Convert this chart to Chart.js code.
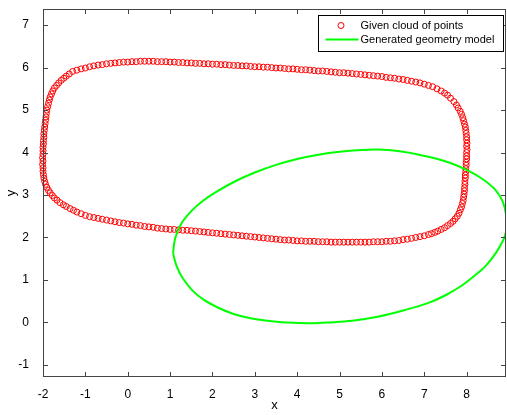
<!DOCTYPE html>
<html>
<head>
<meta charset="utf-8">
<script src="https://cdn.jsdelivr.net/npm/chart.js@4/dist/chart.umd.min.js"></script>
<style>
  html, body { margin: 0; padding: 0; background: #fff; }
  #wrap { width: 507px; height: 415px; }
</style>
</head>
<body>
<div id="wrap"><canvas id="fig"></canvas></div>
<script>
// axis limits and ticks (MATLAB-like figure)
const xLimits = [-2, 8.93];
const yLimits = [-1.285, 7.38];
const tickStep = 1;

const cloudLabel = "Given cloud of points";
const modelLabel = "Generated geometry model";

// measured cloud of points, [x, y], going round the contour
const cloudPoints = [
  [-1.30, 5.91], [-1.20, 5.94], [-1.10, 5.97], [-1.00, 5.99], [-0.90, 6.02], [-0.80, 6.04],
  [-0.70, 6.06], [-0.60, 6.07], [-0.50, 6.09], [-0.40, 6.10], [-0.30, 6.11], [-0.20, 6.12],
  [-0.10, 6.13], [0.00, 6.13], [0.10, 6.14], [0.20, 6.14], [0.30, 6.15], [0.40, 6.15],
  [0.50, 6.15], [0.60, 6.15], [0.70, 6.14], [0.80, 6.14], [0.90, 6.14], [1.00, 6.13],
  [1.10, 6.13], [1.20, 6.12], [1.30, 6.12], [1.40, 6.11], [1.50, 6.11], [1.60, 6.10],
  [1.70, 6.10], [1.80, 6.09], [1.90, 6.09], [2.00, 6.08], [2.10, 6.08], [2.20, 6.07],
  [2.30, 6.07], [2.40, 6.06], [2.50, 6.05], [2.60, 6.05], [2.70, 6.04], [2.80, 6.04],
  [2.90, 6.03], [3.00, 6.02], [3.10, 6.02], [3.20, 6.01], [3.30, 6.01], [3.40, 6.00],
  [3.50, 5.99], [3.60, 5.99], [3.70, 5.98], [3.80, 5.97], [3.90, 5.97], [4.00, 5.96],
  [4.10, 5.95], [4.20, 5.95], [4.30, 5.94], [4.40, 5.93], [4.50, 5.92], [4.60, 5.92],
  [4.70, 5.91], [4.80, 5.90], [4.90, 5.89], [5.00, 5.88], [5.10, 5.88], [5.20, 5.87],
  [5.30, 5.86], [5.40, 5.85], [5.50, 5.84], [5.60, 5.83], [5.70, 5.82], [5.80, 5.81],
  [5.90, 5.80], [6.00, 5.79], [6.10, 5.77], [6.20, 5.76], [6.30, 5.75], [6.40, 5.73],
  [6.50, 5.72], [6.60, 5.70], [6.70, 5.68], [6.80, 5.66], [6.90, 5.64], [7.00, 5.61],
  [7.10, 5.58], [7.20, 5.55], [7.30, 5.50], [7.40, 5.45], [7.48, 5.40], [7.55, 5.35],
  [7.62, 5.28], [7.70, 5.20], [7.76, 5.12], [7.80, 5.05], [7.85, 4.97], [7.88, 4.90],
  [7.91, 4.82], [7.93, 4.75], [7.95, 4.67], [7.97, 4.60], [7.98, 4.52], [7.99, 4.45],
  [8.00, 4.37], [8.00, 4.30], [8.01, 4.22], [8.00, 4.15], [8.01, 4.07], [8.00, 4.00],
  [8.00, 3.92], [8.00, 3.85], [7.99, 3.77], [7.99, 3.70], [7.98, 3.62], [7.98, 3.55],
  [7.97, 3.47], [7.97, 3.40], [7.96, 3.32], [7.96, 3.25], [7.95, 3.17], [7.95, 3.10],
  [7.94, 3.02], [7.93, 2.95], [7.92, 2.87], [7.90, 2.80], [7.88, 2.72], [7.85, 2.65],
  [7.82, 2.57], [7.78, 2.50], [7.73, 2.44], [7.68, 2.38], [7.62, 2.33], [7.55, 2.28],
  [7.48, 2.23], [7.40, 2.19], [7.32, 2.15], [7.25, 2.12], [7.17, 2.09], [7.10, 2.07],
  [7.00, 2.04], [6.90, 2.02], [6.80, 2.00], [6.70, 1.98], [6.60, 1.96], [6.50, 1.95],
  [6.40, 1.93], [6.30, 1.92], [6.20, 1.91], [6.10, 1.91], [6.00, 1.90], [5.90, 1.90],
  [5.80, 1.90], [5.70, 1.89], [5.60, 1.89], [5.50, 1.89], [5.40, 1.89], [5.30, 1.89],
  [5.20, 1.89], [5.10, 1.89], [5.00, 1.89], [4.90, 1.89], [4.80, 1.89], [4.70, 1.90],
  [4.60, 1.90], [4.50, 1.90], [4.40, 1.91], [4.30, 1.91], [4.20, 1.91], [4.10, 1.92],
  [4.00, 1.92], [3.90, 1.93], [3.80, 1.94], [3.70, 1.94], [3.60, 1.95], [3.50, 1.96],
  [3.40, 1.97], [3.30, 1.98], [3.20, 1.99], [3.10, 2.00], [3.00, 2.01], [2.90, 2.02],
  [2.80, 2.03], [2.70, 2.04], [2.60, 2.05], [2.50, 2.06], [2.40, 2.07], [2.30, 2.08],
  [2.20, 2.09], [2.10, 2.10], [2.00, 2.11], [1.90, 2.12], [1.80, 2.13], [1.70, 2.14],
  [1.60, 2.15], [1.50, 2.16], [1.40, 2.17], [1.30, 2.17], [1.20, 2.18], [1.10, 2.19],
  [1.00, 2.19], [0.90, 2.20], [0.80, 2.21], [0.70, 2.22], [0.60, 2.24], [0.50, 2.25],
  [0.40, 2.26], [0.30, 2.28], [0.20, 2.29], [0.10, 2.31], [0.00, 2.32], [-0.10, 2.34],
  [-0.20, 2.35], [-0.30, 2.37], [-0.40, 2.39], [-0.50, 2.41], [-0.60, 2.43], [-0.70, 2.45],
  [-0.80, 2.47], [-0.90, 2.49], [-1.00, 2.52], [-1.10, 2.56], [-1.20, 2.60], [-1.28, 2.64],
  [-1.36, 2.68], [-1.45, 2.73], [-1.52, 2.77], [-1.60, 2.82], [-1.67, 2.88], [-1.73, 2.93],
  [-1.78, 2.99], [-1.83, 3.05], [-1.87, 3.11], [-1.91, 3.18], [-1.94, 3.25], [-1.96, 3.32],
  [-1.98, 3.40], [-1.99, 3.48], [-2.00, 3.56], [-2.00, 3.64], [-2.01, 3.72], [-2.00, 3.80],
  [-2.01, 3.88], [-2.00, 3.96], [-2.00, 4.04], [-2.00, 4.12], [-1.99, 4.20], [-1.99, 4.28],
  [-1.98, 4.36], [-1.98, 4.44], [-1.97, 4.52], [-1.96, 4.60], [-1.95, 4.68], [-1.94, 4.76],
  [-1.93, 4.84], [-1.92, 4.92], [-1.91, 5.00], [-1.89, 5.08], [-1.87, 5.16], [-1.85, 5.24],
  [-1.83, 5.31], [-1.80, 5.38], [-1.77, 5.45], [-1.73, 5.52], [-1.68, 5.58], [-1.63, 5.64],
  [-1.57, 5.70], [-1.51, 5.75], [-1.45, 5.80], [-1.38, 5.85]
];

// fitted ellipse outline, [x, y]
const modelPoints = [
  [1.07, 1.63], [1.12, 1.98], [1.26, 2.32], [1.50, 2.62], [1.77, 2.86], [2.10, 3.08],
  [2.55, 3.33], [3.00, 3.53], [3.50, 3.71], [4.00, 3.85], [4.50, 3.95], [5.00, 4.02],
  [5.50, 4.06], [5.93, 4.07], [6.50, 4.02], [7.10, 3.90], [7.60, 3.76], [8.05, 3.57],
  [8.40, 3.36], [8.68, 3.12], [8.85, 2.85], [8.93, 2.55], [8.95, 2.30], [8.90, 2.02],
  [8.70, 1.65], [8.44, 1.32], [8.15, 1.07], [7.89, 0.87], [7.50, 0.64], [7.10, 0.46],
  [6.50, 0.28], [5.93, 0.14], [5.30, 0.04], [4.75, 0.00], [4.30, -0.02], [3.89, -0.01],
  [3.40, 0.03], [2.90, 0.10], [2.50, 0.20], [2.15, 0.34], [1.80, 0.53], [1.53, 0.75],
  [1.30, 1.04], [1.15, 1.34], [1.07, 1.63]
];

const axisColor = "#444";
const labelFont = { family: "'Liberation Sans', Arial, sans-serif", size: 12 };

// MATLAB style box with inward ticks, plus the legend box
const matlabAxes = {
  id: "matlabAxes",
  afterDraw(c) {
    const ctx = c.ctx;
    const a = c.chartArea;
    const xs = c.scales.x;
    const ys = c.scales.y;
    const len = 5;
    ctx.save();
    ctx.strokeStyle = axisColor;
    ctx.lineWidth = 1;
    ctx.strokeRect(a.left + 0.5, a.top + 0.5, a.right - a.left - 1, a.bottom - a.top - 1);
    ctx.beginPath();
    xs.ticks.forEach((t) => {
      const px = Math.round(xs.getPixelForValue(t.value)) + 0.5;
      ctx.moveTo(px, a.bottom);
      ctx.lineTo(px, a.bottom - len);
      ctx.moveTo(px, a.top);
      ctx.lineTo(px, a.top + len);
    });
    ys.ticks.forEach((t) => {
      const py = Math.round(ys.getPixelForValue(t.value)) + 0.5;
      ctx.moveTo(a.left, py);
      ctx.lineTo(a.left + len, py);
      ctx.moveTo(a.right, py);
      ctx.lineTo(a.right - len, py);
    });
    ctx.stroke();

    // legend
    const bx = a.right - 187.5;
    const by = a.top + 6.5;
    const bw = 185;
    const bh = 36;
    ctx.fillStyle = "#fff";
    ctx.fillRect(bx, by, bw, bh);
    ctx.strokeStyle = "#000";
    ctx.strokeRect(bx, by, bw, bh);

    const cloudSet = c.data.datasets[0];
    const modelSet = c.data.datasets[1];
    ctx.beginPath();
    ctx.strokeStyle = cloudSet.borderColor;
    ctx.arc(bx + 22.5, by + 10, 3, 0, Math.PI * 2);
    ctx.stroke();
    ctx.beginPath();
    ctx.strokeStyle = modelSet.borderColor;
    ctx.lineWidth = 2;
    ctx.moveTo(bx + 7, by + 24);
    ctx.lineTo(bx + 40, by + 24);
    ctx.stroke();

    ctx.fillStyle = "#000";
    ctx.font = "11px 'Liberation Sans', Arial, sans-serif";
    ctx.textBaseline = "middle";
    ctx.textAlign = "left";
    ctx.fillText(cloudSet.label, bx + 42, by + 10);
    ctx.fillText(modelSet.label, bx + 42, by + 24);
    ctx.restore();
  },
};

const ctx = document.getElementById("fig").getContext("2d");

new Chart(ctx, {
  type: "scatter",
  data: {
    datasets: [
      {
        label: cloudLabel,
        data: cloudPoints.map((p) => ({ x: p[0], y: p[1] })),
        showLine: false,
        pointStyle: "circle",
        pointRadius: 3,
        pointBorderWidth: 1,
        borderColor: "#ff0000",
        pointBorderColor: "#ff0000",
        pointBackgroundColor: "rgba(0,0,0,0)",
        clip: false,
        order: 1,
      },
      {
        label: modelLabel,
        data: modelPoints.map((p) => ({ x: p[0], y: p[1] })),
        showLine: true,
        borderColor: "#00ff00",
        borderWidth: 2,
        pointRadius: 0,
        tension: 0.35,
        order: 0,
      },
    ],
  },
  options: {
    responsive: true,
    maintainAspectRatio: false,
    animation: false,
    layout: { autoPadding: false, padding: { top: 9, right: 1, left: 0, bottom: 0 } },
    plugins: {
      legend: { display: false },
      tooltip: { enabled: false },
    },
    scales: {
      x: {
        type: "linear",
        min: xLimits[0],
        max: xLimits[1],
        grid: { display: false },
        border: { display: false },
        ticks: {
          stepSize: tickStep,
          includeBounds: false,
          color: "#000",
          font: labelFont,
          padding: 2,
          maxRotation: 0,
        },
        title: {
          display: true,
          text: "x",
          color: "#000",
          font: { family: labelFont.family, size: 13 },
          padding: { top: 0, bottom: 2 },
        },
        afterFit(scale) {
          scale.height = 38;
          scale.paddingLeft = 0;
          scale.paddingRight = 0;
        },
      },
      y: {
        type: "linear",
        min: yLimits[0],
        max: yLimits[1],
        grid: { display: false },
        border: { display: false },
        ticks: {
          stepSize: tickStep,
          includeBounds: false,
          color: "#000",
          font: labelFont,
          padding: 6,
        },
        title: {
          display: true,
          text: "y",
          color: "#000",
          font: { family: labelFont.family, size: 13 },
          padding: { top: 4, bottom: 0 },
        },
        afterFit(scale) {
          scale.width = 43;
          scale.paddingTop = 0;
          scale.paddingBottom = 0;
        },
      },
    },
  },
  plugins: [matlabAxes],
});
</script>
</body>
</html>
